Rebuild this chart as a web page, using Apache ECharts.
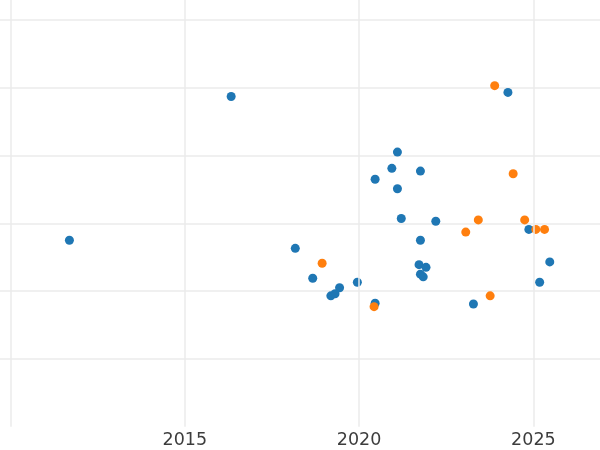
<!DOCTYPE html>
<html>
<head>
<meta charset="utf-8">
<script src="https://cdn.jsdelivr.net/npm/echarts@6/dist/echarts.min.js"></script>
<style>html,body{margin:0;padding:0;background:#fff}#c{width:600px;height:450px}</style>
</head>
<body>
<div id="c"></div>
<script>
// Blue series [year, value]
const blueYears  = [2011.69, 2016.33, 2018.17, 2018.67, 2019.19, 2019.31, 2019.44, 2019.95, 2020.46, 2020.46, 2020.94, 2021.10, 2021.10, 2021.76, 2021.21, 2022.20, 2021.76, 2021.72, 2021.92, 2021.76, 2021.84, 2023.28, 2024.27, 2024.87, 2025.47, 2025.18];
const blueValues = [1.75, 3.87, 1.63, 1.19, 0.93, 0.96, 1.05, 1.13, 0.82, 2.65, 2.81, 3.05, 2.51, 2.77, 2.07, 2.03, 1.75, 1.39, 1.35, 1.25, 1.21, 0.81, 3.93, 1.91, 1.43, 1.13];
// Orange series
const orangeYears  = [2018.94, 2020.43, 2023.06, 2023.42, 2023.89, 2024.42, 2024.75, 2025.07, 2025.32, 2023.76];
const orangeValues = [1.41, 0.77, 1.87, 2.05, 4.03, 2.73, 2.05, 1.91, 1.91, 0.93];
// Tick labels / grid positions
const xTickLabels = [2015, 2020, 2025];
const xGridYears = [2010, 2015, 2020, 2025];

const zip = (a, b) => a.map((v, i) => [v, b[i]]);

const chart = echarts.init(document.getElementById('c'), null, {renderer: 'canvas'});
chart.setOption({
  animation: false,
  backgroundColor: '#ffffff',
  grid: {left: 0, right: 0, top: 0, bottom: 23.3, containLabel: false},
  xAxis: {
    type: 'value',
    min: 2009.699,
    max: 2026.911,
    axisLine: {show: false},
    axisTick: {show: false},
    splitLine: {show: false},
    axisLabel: {
      customValues: xTickLabels,
      formatter: v => String(v),
      color: '#3d3d3d',
      fontFamily: 'DejaVu Sans',
      fontSize: 17.5,
      margin: 5
    }
  },
  yAxis: {
    type: 'value',
    min: -1,
    max: 5.293,
    interval: 1,
    axisLine: {show: false},
    axisTick: {show: false},
    axisLabel: {show: false},
    splitLine: {show: true, showMinLine: false, showMaxLine: false, lineStyle: {color: '#ebebeb', width: 1.5}}
  },
  series: [
    {
      type: 'scatter',
      data: [],
      z: 1,
      silent: true,
      markLine: {
        silent: true,
        symbol: ['none', 'none'],
        label: {show: false},
        lineStyle: {color: '#ebebeb', width: 1.5, type: 'solid'},
        data: xGridYears.map(v => ({xAxis: v}))
      }
    },
    {
      type: 'scatter',
      data: zip(blueYears, blueValues),
      symbolSize: 9,
      itemStyle: {color: '#1f77b4', opacity: 1},
      z: 2
    },
    {
      type: 'scatter',
      data: zip(orangeYears, orangeValues),
      symbolSize: 9,
      itemStyle: {color: '#ff7f0e', opacity: 1},
      z: 3
    }
  ]
});
</script>
</body>
</html>
